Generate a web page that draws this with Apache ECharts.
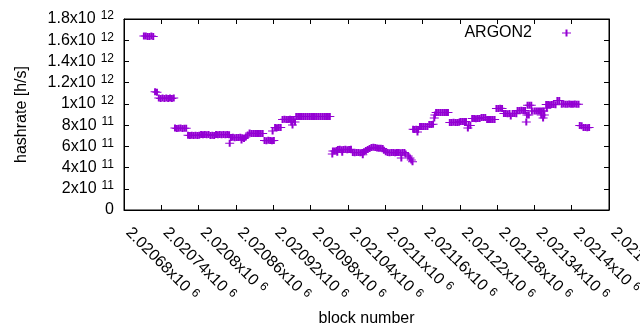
<!DOCTYPE html>
<html>
<head>
<meta charset="utf-8">
<script src="https://cdn.jsdelivr.net/npm/echarts@6/dist/echarts.min.js"></script>
<style>
  html, body { margin: 0; padding: 0; background: #fff; }
  #chart { width: 640px; height: 330px; }
</style>
</head>
<body>
<div id="chart"></div>
<script>
// one entry per plotted block
const seriesName = 'ARGON2';
const blockNumbers = [
  2020712, 2020715, 2020718, 2020721, 2020724, 2020727,
  2020730, 2020733,
  2020736, 2020739, 2020742, 2020745, 2020748, 2020751, 2020754, 2020757, 2020760,
  2020762, 2020765, 2020768, 2020771, 2020774, 2020777, 2020780,
  2020783, 2020786, 2020789, 2020792, 2020795, 2020798, 2020801,
  2020804, 2020807, 2020810, 2020813, 2020816,
  2020819, 2020822, 2020825,
  2020828, 2020831, 2020834, 2020837, 2020840, 2020843, 2020846, 2020849,
  2020850, 2020852, 2020855, 2020858, 2020861, 2020864, 2020867, 2020869, 2020870,
  2020873, 2020876, 2020879, 2020882,
  2020885, 2020888, 2020891, 2020894, 2020897, 2020900, 2020903,
  2020906, 2020909, 2020912, 2020915, 2020918, 2020919, 2020921,
  2020923, 2020926, 2020929, 2020932,
  2020935, 2020938, 2020941, 2020944, 2020947, 2020949, 2020950, 2020951, 2020953, 2020955,
  2020957, 2020960, 2020963, 2020966, 2020969, 2020972, 2020975, 2020978, 2020981, 2020984,
  2020987, 2020990, 2020993, 2020996, 2020999, 2021002, 2021005, 2021008, 2021011,
  2021015, 2021016, 2021019, 2021022,
  2021023, 2021024, 2021027, 2021030, 2021031, 2021033, 2021036, 2021039, 2021042, 2021045,
  2021048, 2021051, 2021054, 2021057, 2021060, 2021063,
  2021064, 2021066, 2021069, 2021072, 2021075, 2021078,
  2021081, 2021084, 2021087, 2021090, 2021093, 2021096,
  2021098, 2021101,
  2021104, 2021107, 2021110, 2021113, 2021116, 2021119, 2021122, 2021125, 2021126, 2021128, 2021131,
  2021133, 2021137, 2021140, 2021142, 2021144,
  2021145, 2021147, 2021150, 2021152, 2021153,
  2021156, 2021159, 2021162, 2021165, 2021168,
  2021171, 2021174, 2021177,
  2021179, 2021180, 2021182,
  2021183, 2021186, 2021189, 2021192, 2021195, 2021198, 2021201,
  2021204, 2021207, 2021210, 2021213, 2021216, 2021219,
  2021221, 2021224, 2021227, 2021230,
  2021233, 2021234, 2021237,
  2021240, 2021243, 2021246, 2021249, 2021252,
  2021255, 2021258, 2021261,
  2021264, 2021267, 2021270, 2021273, 2021276,
  2021279, 2021282, 2021285, 2021288,
  2021291, 2021294, 2021297, 2021300, 2021302,
  2021305, 2021308, 2021311,
  2021313, 2021316, 2021319, 2021322, 2021325,
  2021327, 2021328, 2021329, 2021331, 2021332, 2021335, 2021336,
  2021340, 2021343, 2021346, 2021349, 2021351, 2021352, 2021354, 2021355, 2021356,
  2021359, 2021360, 2021362, 2021365, 2021368, 2021371, 2021374,
  2021377, 2021380,
  2021384, 2021387, 2021390, 2021393, 2021396, 2021399, 2021402, 2021405, 2021408, 2021411,
  2021413, 2021416,
  2021419, 2021422, 2021425, 2021428
];
const hashrates = [
  16.4e11, 16.4e11, 16.35e11, 16.35e11, 16.4e11, 16.35e11,
  11.15e11, 11.1e11,
  10.55e11, 10.5e11, 10.55e11, 10.5e11, 10.55e11, 10.5e11, 10.55e11, 10.5e11, 10.55e11,
  7.72e11, 7.68e11, 7.7e11, 7.72e11, 7.68e11, 7.7e11, 7.7e11,
  7.05e11, 7.02e11, 7.05e11, 7.03e11, 7.05e11, 7.02e11, 7.05e11,
  7.12e11, 7.1e11, 7.12e11, 7.1e11, 7.12e11,
  7.02e11, 7.04e11, 7.02e11,
  7.12e11, 7.1e11, 7.12e11, 7.1e11, 7.12e11, 7.1e11, 7.12e11, 7.1e11,
  6.29e11, 6.83e11, 6.85e11, 6.82e11, 6.84e11, 6.83e11, 6.85e11, 6.6e11, 6.82e11,
  6.74e11, 6.88e11, 7.07e11, 7.26e11,
  7.22e11, 7.2e11, 7.22e11, 7.2e11, 7.22e11, 7.2e11, 7.22e11,
  6.55e11, 6.53e11, 6.57e11, 6.55e11, 6.53e11, 7.45e11, 6.55e11,
  7.77e11, 7.75e11, 7.78e11, 7.77e11,
  8.53e11, 8.55e11, 8.52e11, 8.53e11, 8.55e11, 8.3e11, 8.52e11, 8.0e11, 8.53e11, 8.3e11,
  8.81e11, 8.8e11, 8.82e11, 8.81e11, 8.8e11, 8.82e11, 8.81e11, 8.8e11, 8.82e11, 8.81e11,
  8.8e11, 8.82e11, 8.81e11, 8.8e11, 8.82e11, 8.81e11, 8.8e11, 8.82e11, 8.81e11,
  5.28e11, 5.55e11, 5.55e11, 5.6e11,
  5.45e11, 5.7e11, 5.72e11, 5.68e11, 5.45e11, 5.7e11, 5.72e11, 5.68e11, 5.7e11, 5.72e11,
  5.42e11, 5.4e11, 5.43e11, 5.42e11, 5.4e11, 5.43e11,
  5.2e11, 5.5e11, 5.6e11, 5.7e11, 5.8e11, 5.9e11,
  5.92e11, 5.88e11, 5.85e11, 5.83e11, 5.83e11, 5.8e11,
  5.62e11, 5.5e11,
  5.42e11, 5.4e11, 5.43e11, 5.42e11, 5.4e11, 5.43e11, 5.42e11, 5.4e11, 4.9e11, 5.43e11, 5.42e11,
  5.28e11, 5.09e11, 4.9e11, 4.72e11, 4.55e11,
  7.6e11, 7.58e11, 7.6e11, 7.35e11, 7.58e11,
  7.87e11, 7.86e11, 7.88e11, 7.87e11, 7.86e11,
  8.06e11, 8.05e11, 8.07e11,
  8.67e11, 8.95e11, 9.2e11,
  9.19e11, 9.2e11, 9.18e11, 9.19e11, 9.2e11, 9.18e11, 9.19e11,
  8.25e11, 8.24e11, 8.26e11, 8.25e11, 8.24e11, 8.26e11,
  8.34e11, 8.35e11, 8.33e11, 8.34e11,
  7.73e11, 7.96e11, 7.96e11,
  8.62e11, 8.63e11, 8.61e11, 8.62e11, 8.63e11,
  8.72e11, 8.71e11, 8.72e11,
  8.53e11, 8.52e11, 8.54e11, 8.53e11, 8.52e11,
  9.57e11, 9.56e11, 9.58e11, 9.57e11,
  9.09e11, 9.1e11, 9.08e11, 9.09e11, 8.86e11,
  9.09e11, 9.1e11, 9.08e11,
  9.38e11, 9.37e11, 9.39e11, 9.38e11, 9.37e11,
  8.29e11, 8.95e11, 9.87e11, 8.95e11, 9.86e11, 9.88e11, 9.33e11,
  9.33e11, 9.34e11, 9.32e11, 9.33e11, 8.95e11, 9.34e11, 8.67e11, 9.32e11, 8.95e11,
  9.94e11, 9.6e11, 9.95e11, 9.93e11, 9.94e11, 9.95e11, 9.93e11,
  10.32e11, 10.31e11,
  9.97e11, 9.98e11, 9.96e11, 9.97e11, 9.98e11, 9.96e11, 9.97e11, 9.98e11, 9.96e11, 9.97e11,
  7.96e11, 7.95e11,
  7.77e11, 7.78e11, 7.76e11, 7.77e11
];
const xRange = { min: 2020680, max: 2021460, step: 60 };
const yRange = { min: 0, max: 1.8e12, step: 2e11 };

const font = 'Liberation Sans, Arial, sans-serif';
const purple = '#9400d3';
const plusPath = 'path://M0,3h9v1h-9zM3.5,0h2v7h-2z';

// gnuplot style "1.8x10^12" labels
function sciLabel(v) {
  if (v === 0) return '{m|0}';
  const e = Math.floor(Math.log10(v) + 1e-9);
  const m = Number((v / Math.pow(10, e)).toFixed(5));
  return '{m|' + m + 'x10}{e|' + e + '}';
}
const labelRich = {
  m: { fontFamily: font, fontSize: 16, color: '#000' },
  e: { fontFamily: font, fontSize: 12, color: '#000', padding: [0, 0, 6, 5] }
};

function frameAxis(extra) {
  return Object.assign({
    axisLine: { show: true, onZero: false, lineStyle: { color: '#000', width: 1 } },
    axisTick: { show: true, inside: true, length: 5, lineStyle: { color: '#000', width: 1 } },
    splitLine: { show: false }
  }, extra);
}

const chart = echarts.init(document.getElementById('chart'));
chart.setOption({
  animation: false,
  grid: {
    left: 124, right: 31, top: 19, bottom: 120,
    outerBoundsMode: 'none',
    show: true, borderColor: '#000', borderWidth: 1
  },
  legend: {
    data: [seriesName],
    right: 64, top: 20,
    align: 'right',
    icon: plusPath,
    itemWidth: 9, itemHeight: 7,
    textStyle: { fontFamily: font, fontSize: 16, color: '#000', padding: [0, 25, 0, 0] }
  },
  xAxis: [
    frameAxis({
      type: 'value', position: 'bottom',
      min: xRange.min, max: xRange.max, interval: xRange.step,
      name: 'block number', nameLocation: 'middle', nameGap: 94,
      nameTextStyle: { fontFamily: font, fontSize: 16, color: '#000' },
      axisLabel: {
        rotate: -45, margin: 16, align: 'left', verticalAlign: 'middle',
        padding: [0, 0, 0, 6],
        formatter: sciLabel, rich: labelRich,
        showMinLabel: true, showMaxLabel: true, hideOverlap: false
      }
    }),
    frameAxis({
      type: 'value', position: 'top',
      min: xRange.min, max: xRange.max, interval: xRange.step,
      axisLabel: { show: false }
    })
  ],
  yAxis: [
    frameAxis({
      type: 'value', position: 'left',
      min: yRange.min, max: yRange.max, interval: yRange.step,
      name: 'hashrate [h/s]', nameLocation: 'middle', nameGap: 94, nameRotate: 90,
      nameTextStyle: { fontFamily: font, fontSize: 16, color: '#000' },
      axisLabel: { margin: 10, formatter: sciLabel, rich: labelRich }
    }),
    frameAxis({
      type: 'value', position: 'right',
      min: yRange.min, max: yRange.max, interval: yRange.step,
      axisLabel: { show: false }
    })
  ],
  series: [{
    name: seriesName,
    type: 'scatter',
    symbol: plusPath,
    symbolSize: [9, 7],
    itemStyle: { color: purple, opacity: 1 },
    emphasis: { disabled: true },
    data: blockNumbers.map((b, i) => [b, hashrates[i]])
  }]
});
</script>
</body>
</html>
